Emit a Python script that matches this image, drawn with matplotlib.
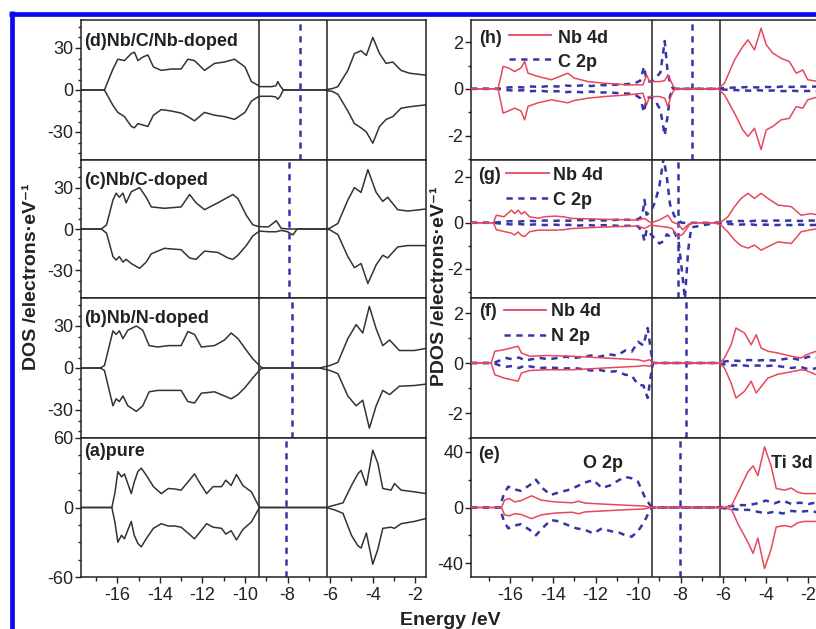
import matplotlib
matplotlib.use("Agg")
import matplotlib.pyplot as plt
from matplotlib.lines import Line2D
from matplotlib.ticker import MultipleLocator

plt.rcParams['font.family'] = ['Liberation Sans', 'DejaVu Sans']
plt.rcParams['axes.unicode_minus'] = False
plt.rcParams['lines.scale_dashes'] = False

# ---------------- total DOS (left column) ----------------
# (d) Nb/C/Nb-doped
E_d = [-17.7, -16.6, -16.2, -15.97, -15.66, -15.34, -15.19, -15.03, -14.8, -14.56,
       -14.3, -13.93, -13.46, -13.0, -12.68, -12.37, -11.9, -11.43, -10.96, -10.49,
       -10.0, -9.7, -9.4, -9.3, -8.75, -8.55, -8.46, -8.35, -8.2, -6.3,
       -6.1, -5.9, -5.64, -5.17, -4.86, -4.55, -4.3, -4.0, -3.68, -3.37,
       -3.06, -2.67, -2.28, -1.5]
up_d = [0, 0, 15, 22, 21, 26, 27, 21, 23.5, 25,
        16.5, 14, 15, 15, 22, 21, 14, 19, 20, 22,
        16.5, 6, 3.5, 2.4, 2.4, 3, 6, 3, 0, 0,
        0.5, 1, 2.4, 14, 26, 28, 24.7, 37.6, 26, 19,
        20, 14, 12, 10.6]
down_d = [0, 0, -11, -16, -19, -26, -27, -24, -25, -26,
          -18, -14, -15, -16.5, -19, -22, -16, -18, -19, -21,
          -16, -8, -5, -4.5, -4.5, -5, -6.6, -4.5, 0, 0,
          -0.5, -1, -3, -15, -24, -27, -30, -38, -26, -21,
          -19, -13, -12, -10.6]

# (c) Nb/C-doped
E_c = [-17.7, -16.75, -16.5, -16.2, -16.05, -15.9, -15.73, -15.58, -15.34, -14.95,
       -14.64, -14.4, -13.78, -13.0, -12.6, -12.3, -11.9, -11.27, -10.8, -10.57,
       -10.33, -9.94, -9.63, -9.32, -8.9, -8.53, -8.3, -8.0, -7.75, -7.55,
       -6.3, -6.03, -5.64, -5.17, -4.86, -4.55, -4.23, -3.84, -3.53, -3.3,
       -2.83, -2.35, -1.5]
up_c = [0, 0, 3, 21, 26, 23, 26, 19, 27, 30,
        23, 16, 15, 16, 25, 19, 14, 19, 23, 25,
        22, 10, 3, 1.7, 1.5, 6, 0.5, 0, 0, 0,
        0, 0.5, 4, 21, 30, 26.5, 43, 26.5, 20, 23,
        14, 13, 14.5]
down_c = [0, 0, -3, -20, -22.5, -20, -24, -22, -25, -28.5,
          -24, -18, -14, -15, -21, -22, -16, -17, -21, -22,
          -19, -12, -5, -1.5, -2, -2, -1, -2, -4.3, 0,
          0, -0.5, -4, -20, -28, -25, -39.5, -26, -19, -21,
          -13, -12, -12]

# (b) Nb/N-doped
E_b = [-17.7, -16.8, -16.6, -16.2, -16.05, -15.9, -15.73, -15.5, -15.1, -14.8,
       -14.5, -14.1, -13.6, -13.0, -12.68, -12.37, -12.05, -11.43, -10.96, -10.65,
       -10.33, -10.0, -9.63, -9.4, -9.24, -9.1, -6.5, -6.03, -5.64, -5.17,
       -4.78, -4.47, -4.16, -3.84, -3.53, -3.21, -2.75, -2.04, -1.5]
up_b = [0, 0, 1.7, 26.5, 24, 26.5, 21, 27, 30, 27,
        16, 15, 16, 16, 26, 24, 15, 16, 20, 25,
        21, 14, 6.5, 3, 0.5, 0, 0, 1.7, 4, 21,
        31, 25, 44, 28, 16, 20, 12.5, 12.5, 14]
down_b = [0, 0, -1.7, -27, -22, -24, -20, -27, -31, -27,
          -17, -16, -16, -16, -24, -25, -18, -17, -20, -22,
          -19, -14, -7, -3, -0.5, 0, 0, -1.7, -4, -20,
          -27, -23, -43, -27, -16, -19, -13, -12.5, -11.5]

# (a) pure
E_a = [-17.7, -16.25, -16.1, -15.97, -15.8, -15.66, -15.34, -15.2, -15.03, -14.87,
       -14.64, -14.3, -13.93, -13.6, -13.3, -13.0, -12.68, -12.37, -12.15, -11.8,
       -11.5, -11.1, -10.9, -10.65, -10.4, -10.1, -9.7, -9.32, -6.2, -5.8,
       -5.4, -5.0, -4.7, -4.55, -4.3, -4.0, -3.76, -3.53, -3.14, -2.98,
       -2.67, -2.04, -1.5]
up_a = [0, 0, 13.5, 31, 26.5, 29, 12, 22, 31, 34,
        28, 18, 12, 16.4, 16, 15, 22, 29, 22, 12,
        18, 18, 23.6, 19, 28.5, 19, 13.5, 0, 0, 2,
        4, 19, 29, 32, 19, 49.5, 38, 16.4, 15, 20.7,
        15, 13.5, 12]
down_a = [0, 0, -13.5, -30, -24, -27, -12, -24, -31, -34,
          -27, -18, -14, -16, -16, -17, -22, -27, -22, -14,
          -17, -18, -23, -20, -28, -19, -12.5, 0, 0, -2,
          -5, -24, -33, -35, -22, -49, -36, -18, -17, -18,
          -14, -12, -9.5]

# ---------------- partial DOS (right column) ----------------
# (h) Nb 4d / C 2p
E_h = [-17.85, -16.58, -16.34, -16.1, -15.8, -15.5, -15.33, -15.17, -14.7, -14.07,
       -13.3, -13.0, -12.35, -11.57, -10.5, -9.77, -9.6, -9.46, -9.0, -8.75,
       -8.6, -8.45, -8.28, -6.4, -6.25, -5.94, -5.47, -5.08, -4.84, -4.53,
       -4.22, -3.98, -3.67, -3.28, -2.89, -2.57, -2.26, -2.03, -1.5]
nb_up_h = [0, 0, 0.96, 0.9, 0.74, 0.9, 1.17, 0.67, 0.53, 0.39,
           0.67, 0.46, 0.31, 0.24, 0.17, 0.17, 0.6, 0.31, 0.31, 0.35,
           0.6, 0.31, 0, 0, 0, 0.24, 1.24, 1.81, 2.1, 1.67,
           2.6, 1.89, 1.53, 1.31, 1.17, 0.67, 0.81, 0.39, 0.31]
nb_dn_h = [0, 0, -1.04, -0.95, -0.83, -0.95, -1.33, -0.75, -0.6, -0.47,
           -0.6, -0.5, -0.4, -0.33, -0.26, -0.19, -0.69, -0.33, -0.33, -0.4,
           -0.76, -0.3, 0, 0, 0, -0.26, -1.04, -1.76, -2.04, -1.69,
           -2.6, -1.76, -1.61, -1.33, -1.26, -0.76, -0.83, -0.47, -0.33]
E_hc = [-17.85, -16.6, -16.2, -15.8, -15.4, -15.0, -14.6, -14.2, -13.8, -13.4,
        -13.0, -12.6, -12.2, -11.8, -11.4, -11.0, -10.6, -10.2, -9.9, -9.72,
        -9.6, -9.4, -9.2, -8.95, -8.75, -8.62, -8.5, -8.35, -6.3, -6.0,
        -5.6, -5.2, -4.8, -4.4, -4.0, -3.6, -3.2, -2.8, -2.4, -2.0, -1.5]
c_up_h = [0, 0, 0.05, 0.08, 0.06, 0.1, 0.08, 0.12, 0.1, 0.14,
          0.12, 0.15, 0.12, 0.16, 0.15, 0.18, 0.2, 0.22, 0.35, 0.95,
          0.35, 0.3, 0.45, 0.7, 2.05, 0.8, 0.25, 0, 0, 0.03,
          0.05, 0.06, 0.08, 0.06, 0.08, 0.07, 0.1, 0.08, 0.1, 0.09, 0.1]
c_dn_h = [0, 0, -0.05, -0.08, -0.06, -0.1, -0.08, -0.12, -0.1, -0.14,
          -0.12, -0.15, -0.12, -0.16, -0.15, -0.18, -0.2, -0.22, -0.4, -1.0,
          -0.4, -0.35, -0.5, -0.9, -2.0, -1.2, -0.3, 0, 0, -0.03,
          -0.05, -0.06, -0.08, -0.06, -0.08, -0.07, -0.1, -0.08, -0.1, -0.09, -0.1]

# (g) Nb 4d / C 2p
E_g = [-17.85, -16.8, -16.66, -16.3, -15.95, -15.8, -15.64, -15.48, -15.33, -15.1,
       -14.7, -14.4, -13.9, -13.5, -13.1, -11.5, -10.0, -9.7, -9.4, -9.0,
       -8.6, -8.4, -8.13, -7.9, -7.6, -7.4, -6.4, -6.1, -5.78, -5.47,
       -5.16, -4.84, -4.53, -4.22, -3.9, -3.43, -2.8, -2.34, -1.87, -1.5]
nb_up_g = [0, 0, 0.33, 0.26, 0.55, 0.4, 0.55, 0.38, 0.48, 0.26,
           0.2, 0.26, 0.29, 0.26, 0.19, 0.15, 0.12, 0.19, 0.0, 0.12,
           0.33, 0.04, -0.06, -0.3, -0.05, 0, 0, 0.04, 0.26, 0.7,
           1.06, 1.28, 1.06, 1.28, 1.06, 0.77, 0.7, 0.33, 0.4, 0.33]
nb_dn_g = [0, 0, -0.3, -0.38, -0.45, -0.53, -0.4, -0.55, -0.6, -0.39,
           -0.32, -0.32, -0.32, -0.3, -0.25, -0.18, -0.14, -0.25, -0.1, -0.15,
           -0.2, -0.25, -0.6, -0.5, -0.1, 0, 0, -0.1, -0.4, -0.75,
           -1.0, -1.1, -0.97, -1.19, -1.04, -0.83, -0.9, -0.39, -0.3, -0.25]
E_gc = [-17.85, -16.8, -16.4, -16.0, -15.6, -15.2, -14.8, -14.4, -14.0, -13.6,
        -13.2, -12.8, -12.4, -12.0, -11.6, -11.2, -10.8, -10.4, -10.0, -9.8,
        -9.7, -9.6, -9.4, -9.2, -9.0, -8.8, -8.65, -8.5, -8.3, -8.1,
        -7.95, -7.8, -7.65, -7.5, -6.3, -6.0, -5.6, -5.2, -4.8, -4.4,
        -4.0, -3.6, -3.2, -2.8, -2.4, -2.0, -1.5]
c_up_g = [0, 0, 0.04, 0.07, 0.05, 0.09, 0.07, 0.1, 0.08, 0.1,
          0.09, 0.12, 0.1, 0.12, 0.1, 0.12, 0.14, 0.13, 0.15, 0.3,
          1.0, 0.35, 0.5, 0.9, 1.6, 2.8, 2.0, 0.8, 0.3, 0.1,
          0, 0, 0, 0, 0, 0.03, 0.06, 0.08, 0.06, 0.1,
          0.08, 0.1, 0.09, 0.1, 0.08, 0.1, 0.09]
c_dn_g = [0, 0, -0.04, -0.07, -0.05, -0.09, -0.07, -0.1, -0.08, -0.1,
          -0.09, -0.12, -0.1, -0.12, -0.1, -0.12, -0.14, -0.13, -0.15, -0.4,
          -0.8, -0.3, -0.5, -0.7, -0.9, -0.8, -0.5, -0.6, -0.4, -0.8,
          -2.0, -3.3, -1.2, -0.2, 0, -0.03, -0.06, -0.08, -0.06, -0.1,
          -0.08, -0.1, -0.09, -0.1, -0.08, -0.1, -0.09]

# (f) Nb 4d / N 2p
E_f = [-17.85, -16.9, -16.73, -16.3, -15.64, -15.48, -15.1, -14.3, -13.1, -11.57,
       -10.0, -9.7, -9.46, -9.3, -6.4, -6.17, -5.94, -5.63, -5.4, -5.0,
       -4.69, -4.45, -4.22, -3.9, -3.43, -2.8, -2.34, -2.1, -1.63, -1.5]
nb_up_f = [0, 0, 0.47, 0.53, 0.67, 0.4, 0.27, 0.3, 0.27, 0.2,
           0.13, 0.07, 0.13, 0, 0, 0, 0.2, 0.73, 1.4, 1.2,
           0.73, 1.13, 0.6, 0.47, 0.4, 0.27, 0.2, 0.33, 0.47, 0.47]
nb_dn_f = [0, 0, -0.47, -0.6, -0.73, -0.4, -0.3, -0.27, -0.27, -0.2,
           -0.13, -0.1, -0.13, 0, 0, 0, -0.2, -0.8, -1.4, -1.13,
           -0.73, -1.2, -0.95, -0.6, -0.45, -0.35, -0.27, -0.3, -0.47, -0.47]
E_fn = [-17.85, -16.8, -16.5, -16.2, -15.9, -15.6, -15.3, -15.0, -14.6, -14.2,
        -13.8, -13.4, -13.0, -12.6, -12.2, -11.8, -11.4, -11.0, -10.6, -10.3,
        -10.0, -9.75, -9.55, -9.4, -9.3, -6.3, -6.0, -5.6, -5.2, -4.8,
        -4.4, -4.0, -3.6, -3.2, -2.8, -2.4, -2.0, -1.5]
n_up_f = [0, 0, 0.1, 0.2, 0.15, 0.22, 0.1, 0.15, 0.2, 0.15,
          0.2, 0.25, 0.2, 0.25, 0.3, 0.25, 0.35, 0.3, 0.5, 0.45,
          0.85, 0.7, 1.4, 0.5, 0, 0, 0.05, 0.1, 0.08, 0.12,
          0.1, 0.12, 0.1, 0.15, 0.2, 0.12, 0.25, 0.2]
n_dn_f = [0, 0, -0.1, -0.15, -0.12, -0.2, -0.1, -0.15, -0.2, -0.18,
          -0.2, -0.22, -0.2, -0.25, -0.3, -0.28, -0.35, -0.33, -0.47, -0.5,
          -0.87, -0.9, -1.4, -0.5, 0, 0, -0.05, -0.1, -0.08, -0.12,
          -0.1, -0.12, -0.1, -0.15, -0.2, -0.15, -0.25, -0.2]

# (e) Ti 3d / O 2p
E_e = [-17.85, -16.42, -16.27, -16.05, -15.8, -15.5, -15.0, -14.55, -13.9, -13.1,
       -12.8, -12.5, -11.57, -10.8, -9.7, -9.4, -5.94, -5.6, -5.3, -4.84,
       -4.6, -4.37, -4.06, -3.75, -3.51, -3.12, -2.8, -2.5, -2.2, -1.5]
ti_up_e = [0, 0, 5.3, 6.5, 4, 5, 8.4, 5.3, 4, 3.4,
           4.5, 3.2, 2.4, 1.8, 1.0, 0, 0, 1.7, 11, 25.6,
           30, 23, 43.6, 30, 13.7, 12.5, 14, 11, 10, 10]
ti_dn_e = [0, 0, -5.3, -6, -4.5, -5, -8, -5.3, -4, -3.4,
           -4.5, -3.2, -2.4, -1.8, -1.0, 0, 0, -1.7, -12, -25,
           -33, -22, -44, -30, -14, -13, -14, -11, -10, -10]
E_eo = [-17.85, -16.5, -16.3, -16.1, -15.8, -15.5, -15.1, -14.8, -14.5, -14.1,
        -13.7, -13.3, -12.9, -12.5, -12.1, -11.7, -11.3, -10.9, -10.6, -10.3,
        -10.0, -9.7, -9.45, -9.3, -6.4, -6.0, -5.6, -5.2, -4.8, -4.4,
        -4.0, -3.6, -3.2, -2.8, -2.4, -2.0, -1.5]
o_up_e = [0, 0, 10, 15, 13, 12, 16, 20, 14, 9,
          11, 12.5, 15, 18, 19.7, 14, 16, 19.7, 22, 21,
          18.5, 8, 2, 0, 0, 0.5, 1, 1.7, 1.7, 3,
          5, 3, 5, 2.5, 3.5, 2.5, 4]
o_dn_e = [0, 0, -10, -15, -13, -12, -16, -20, -15, -9,
          -10, -12.7, -15, -16, -18.7, -15, -17, -18, -20, -21,
          -17, -10, -2, 0, 0, -0.5, -1, -1.7, -1.7, -3,
          -4.3, -3, -4.3, -2.5, -3, -2.5, -3.5]

# band-edge markers and Fermi levels
band_edges = [-9.35, -6.13]
fermi_left = [-7.44, -7.91, -7.8, -8.07]     # d, c, b, a
fermi_right = [-7.48, -8.13, -7.76, -8.05]   # h, g, f, e

left_labels = ['(d)Nb/C/Nb-doped', '(c)Nb/C-doped', '(b)Nb/N-doped', '(a)pure']
right_tags = ['(h)', '(g)', '(f)', '(e)']
pdos_names = [('Nb 4d', 'C 2p'), ('Nb 4d', 'C 2p'), ('Nb 4d', 'N 2p')]
x_ticks = [-16, -14, -12, -10, -8, -6, -4, -2]

W, H = 816, 629
fig = plt.figure(figsize=(W / 100, H / 100), dpi=100)
fig.patch.set_facecolor('white')

BLACK = '#333333'
RED = '#e8475c'
BLUE = '#3535a8'
FS = 13


def fx(x):
    return x / W


def fy(y):
    return 1 - y / H


def add_panel(x0, x1, y0, y1):
    return fig.add_axes([fx(x0), fy(y1), (x1 - x0) / W, (y1 - y0) / H])


def style(ax, xlim, ylim, yticks, yminor, bottom):
    ax.set_xlim(*xlim)
    ax.set_ylim(*ylim)
    ax.set_yticks(yticks)
    ax.set_yticklabels([str(t) for t in yticks])
    ax.yaxis.set_minor_locator(MultipleLocator(yminor))
    ax.tick_params(axis='y', which='both', direction='out', labelsize=FS, pad=1.5,
                   width=1, colors='#222222')
    ax.tick_params(axis='y', which='major', length=4)
    ax.tick_params(axis='y', which='minor', length=2.5)
    if bottom:
        ax.set_xticks(x_ticks)
        ax.set_xticklabels([str(t) for t in x_ticks])
        ax.xaxis.set_minor_locator(MultipleLocator(1))
        ax.tick_params(axis='x', which='both', direction='out', labelsize=FS, pad=3,
                       width=1, colors='#222222')
        ax.tick_params(axis='x', which='major', length=4)
        ax.tick_params(axis='x', which='minor', length=3)
    else:
        ax.set_xticks([])
        ax.tick_params(axis='x', which='both', bottom=False, labelbottom=False)
    for sp in ax.spines.values():
        sp.set_linewidth(1.1)
        sp.set_color('#222222')
    for e in band_edges:
        ax.axvline(e, color='#222222', lw=1.1, zorder=1)


rows = [(20, 160), (160, 298), (298, 438), (438, 577)]

# left column: total DOS
left_data = [(E_d, up_d, down_d), (E_c, up_c, down_c), (E_b, up_b, down_b), (E_a, up_a, down_a)]
for i, ((y0, y1), (E, up, dn)) in enumerate(zip(rows, left_data)):
    ax = add_panel(81, 426, y0, y1)
    if i < 3:
        style(ax, (-17.7, -1.5), (-50, 50), [-30, 0, 30], 7.5, False)
    else:
        style(ax, (-17.7, -1.5), (-60, 60), [-60, 0, 60], 15, True)
    ax.plot(E, up, color=BLACK, lw=1.1)
    ax.plot(E, dn, color=BLACK, lw=1.1)
    ax.axvline(fermi_left[i], color=BLUE, lw=1.8, ls=(0, (4.5, 4)))

# right column: partial DOS
right_ylims = [(-3.05, 2.95), (-3.27, 2.73), (-3.0, 2.6), (-50, 50)]
right_data = [
    (E_h, nb_up_h, nb_dn_h, E_hc, c_up_h, c_dn_h),
    (E_g, nb_up_g, nb_dn_g, E_gc, c_up_g, c_dn_g),
    (E_f, nb_up_f, nb_dn_f, E_fn, n_up_f, n_dn_f),
    (E_e, ti_up_e, ti_dn_e, E_eo, o_up_e, o_dn_e),
]
DASH = (0, (4.5, 4))
for i, ((y0, y1), (E1, a1, b1, E2, a2, b2)) in enumerate(zip(rows, right_data)):
    ax = add_panel(471, 819, y0, y1)
    if i < 3:
        style(ax, (-17.85, -1.5), right_ylims[i], [-2, 0, 2], 1, False)
    else:
        style(ax, (-17.85, -1.5), right_ylims[i], [-40, 0, 40], 20, True)
    ax.plot(E1, a1, color=RED, lw=1.1, zorder=3)
    ax.plot(E1, b1, color=RED, lw=1.1, zorder=3)
    ax.plot(E2, a2, color=BLUE, lw=1.8, ls=DASH, zorder=2)
    ax.plot(E2, b2, color=BLUE, lw=1.8, ls=DASH, zorder=2)
    ax.axvline(fermi_right[i], color=BLUE, lw=1.8, ls=DASH, zorder=2)

# panel captions, left column
left_base = [46.5, 185, 323, 456]
for lab, yb in zip(left_labels, left_base):
    fig.text(fx(84), fy(yb), lab, fontsize=FS, fontweight='bold', va='baseline', ha='left',
             color='#222222')

# in-panel keys, right column
key_rows = [
    (43, 35, 67, 59, 479, 509, 551, 558),
    (180, 173, 205, 198, 478, 506, 549, 553),
    (316, 310, 341, 335, 479, 504, 546, 551),
]
for tag, (n1, n2), (b1, l1, b2, l2, xt, xa, xb, xn) in zip(right_tags, pdos_names, key_rows):
    fig.text(fx(xt), fy(b1), tag, fontsize=FS, fontweight='bold', va='baseline', color='#222222')
    fig.add_artist(Line2D([fx(xa), fx(xb)], [fy(l1), fy(l1)], color=RED, lw=1.3))
    fig.text(fx(xn), fy(b1), n1, fontsize=FS, fontweight='bold', va='baseline', color='#222222')
    fig.add_artist(Line2D([fx(xa), fx(xb)], [fy(l2), fy(l2)], color=BLUE, lw=1.8, ls=DASH))
    fig.text(fx(xn), fy(b2), n2, fontsize=FS, fontweight='bold', va='baseline', color='#222222')

fig.text(fx(478), fy(459), right_tags[3], fontsize=FS, fontweight='bold', va='baseline', color='#222222')
fig.text(fx(583), fy(468), 'O 2p', fontsize=FS, fontweight='bold', va='baseline', color='#222222')
fig.text(fx(771), fy(468), 'Ti 3d', fontsize=FS, fontweight='bold', va='baseline', color='#222222')

# axis titles
fig.text(fx(31.5), fy(277), 'DOS /electrons\u00b7eV\u207b\u00b9', rotation=90, fontsize=14,
         fontweight='bold', ha='center', va='center', color='#222222')
fig.text(fx(440), fy(286), 'PDOS /electrons\u00b7eV\u207b\u00b9', rotation=90, fontsize=14,
         fontweight='bold', ha='center', va='center', color='#222222')
fig.text(fx(450), fy(625), 'Energy /eV', fontsize=14, fontweight='bold', ha='center',
         va='baseline', color='#222222')

# blue frame along the top and left edges
fig.add_artist(Line2D([fx(9), fx(816)], [fy(13.5), fy(13.5)], color='#0a0af0', lw=3.4,
                      solid_capstyle='butt'))
fig.add_artist(Line2D([fx(11.5), fx(11.5)], [fy(11), fy(629)], color='#0a0af0', lw=3.4,
                      solid_capstyle='butt'))

fig.savefig('out.png', dpi=100)
